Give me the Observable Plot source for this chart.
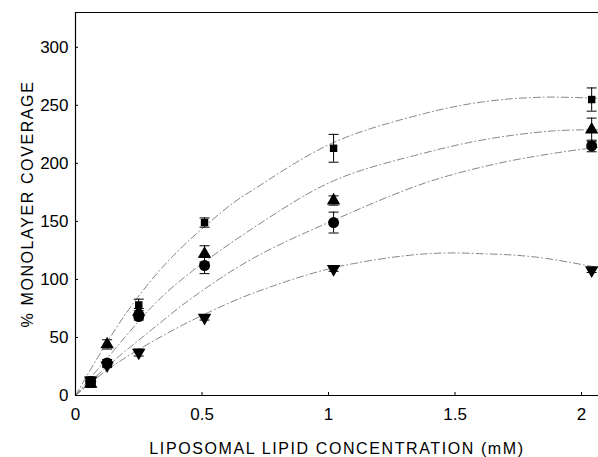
<!DOCTYPE html>
<html>
<head>
<meta charset="utf-8">
<script src="https://cdn.jsdelivr.net/npm/d3@7"></script>
<script src="https://cdn.jsdelivr.net/npm/@observablehq/plot@0.6"></script>
<style>
  html, body { margin: 0; padding: 0; background: #fff; }
  #chart svg { display: block; }
</style>
</head>
<body>
<div id="chart"></div>
<script>
// Concentrations (mM) as plotted
const conc = [0.06, 0.125, 0.25, 0.51, 1.02, 2.04];

// Series values (% monolayer coverage) and error half-widths
const squareVals = [13, null, 78, 149, 213, 255];
const squareErr  = [3, null, 5, 4, 12, 10];
const triVals    = [10, 44, 72, 122, 168, 229];
const triErr     = [3, 4, 3, 7, 4, 10];
const circVals   = [12, 28, 68, 112, 149, 215];
const circErr    = [3, 3, 3, 7, 9, 5];
const invVals    = [13, 26, 37, 67, 109, 108];
const invErr     = [2, 2, 3, 2, 2, 2];

// Fitted curves
const squareCurveX = [0, 0.125, 0.237, 0.38, 0.60, 0.70, 1.02, 1.38, 1.61, 1.84, 2.07];
const squareCurveY = [0, 46, 82, 119, 162, 177, 218, 243, 253, 257, 256];
const triCurveX    = [0, 0.125, 0.30, 0.42, 0.70, 1.02, 1.38, 1.63, 1.89, 2.07];
const triCurveY    = [0, 32, 76, 100, 144, 185, 209, 221, 228, 229];
const circCurveX   = [0, 0.125, 0.32, 0.46, 0.70, 1.02, 1.38, 1.67, 1.93, 2.07];
const circCurveY   = [0, 25, 60, 84, 118, 151, 183, 200, 210, 214];
const invCurveX    = [0, 0.125, 0.245, 0.40, 0.51, 0.70, 1.02, 1.38, 1.63, 1.83, 2.07];
const invCurveY    = [0, 22, 39, 58, 70, 88, 110, 122, 122, 119, 110];

const xTicks = [0, 0.5, 1, 1.5, 2];
const xTickLabels = ["0", "0.5", "1", "1.5", "2"];
const yTicks = [0, 50, 100, 150, 200, 250, 300];

const xTitle = "LIPOSOMAL LIPID CONCENTRATION (mM)";
const yTitle = "% MONOLAYER COVERAGE";

const series = [
  {name: "square", vals: squareVals, err: squareErr, symbol: "square", rotate: 0, r: 4.2, cx: squareCurveX, cy: squareCurveY},
  {name: "triangle", vals: triVals, err: triErr, symbol: "triangle", rotate: 0, r: 5, cx: triCurveX, cy: triCurveY},
  {name: "circle", vals: circVals, err: circErr, symbol: "circle", rotate: 0, r: 5.5, cx: circCurveX, cy: circCurveY},
  {name: "inverted", vals: invVals, err: invErr, symbol: "triangle", rotate: 180, r: 5, cx: invCurveX, cy: invCurveY}
];

const points = [];
const curves = [];
for (const s of series) {
  conc.forEach((c, i) => {
    if (s.vals[i] != null) points.push({series: s.name, x: c, y: s.vals[i], lo: s.vals[i] - s.err[i], hi: s.vals[i] + s.err[i]});
  });
  s.cx.forEach((c, i) => curves.push({series: s.name, x: c, y: s.cy[i]}));
}

const capSymbol = {
  draw(ctx) { ctx.moveTo(-5, 0); ctx.lineTo(5, 0); }
};

const chart = Plot.plot({
  width: 598,
  height: 457,
  marginLeft: 75,
  marginTop: 12,
  marginBottom: 62,
  marginRight: 0,
  style: {fontFamily: "'Liberation Sans', Arial, sans-serif", fontSize: "17px", color: "#000", background: "#fff"},
  x: {domain: [0, 2.067], label: null},
  y: {domain: [0, 330], label: null},
  marks: [
    Plot.line(curves, {x: "x", y: "y", z: "series", curve: "catmull-rom", stroke: "#777", strokeWidth: 0.9, strokeDasharray: "7,3,1,3"}),
    Plot.ruleX(points, {x: "x", y1: "lo", y2: "hi", stroke: "#000", strokeWidth: 1}),
    Plot.dot(points, {x: "x", y: "lo", symbol: capSymbol, stroke: "#000", strokeWidth: 1, r: 3}),
    Plot.dot(points, {x: "x", y: "hi", symbol: capSymbol, stroke: "#000", strokeWidth: 1, r: 3}),
    ...series.map(s => Plot.dot(points.filter(p => p.series === s.name), {x: "x", y: "y", symbol: s.symbol, rotate: s.rotate, r: s.r, fill: "#000", stroke: "none"})),
    Plot.axisX({ticks: xTicks, tickFormat: (d, i) => xTickLabels[i], tickSize: -3, tickPadding: 15, fontSize: 17, label: null}),
    Plot.axisY({ticks: yTicks, tickSize: -3, tickPadding: 10, fontSize: 17, label: null}),
    Plot.ruleY([0], {stroke: "#000", strokeWidth: 1.2}),
    Plot.ruleX([0], {stroke: "#000", strokeWidth: 1.2}),
    Plot.frame({anchor: "top", stroke: "#000", strokeWidth: 1}),
    Plot.text([xTitle], {frameAnchor: "bottom", dy: 58, fontSize: 16, fill: "#000"}),
    Plot.text([yTitle], {frameAnchor: "left", textAnchor: "middle", dx: -48, rotate: -90, fontSize: 16, fill: "#000"})
  ]
});
chart.querySelectorAll("text").forEach(t => {
  if (t.textContent === xTitle) t.style.letterSpacing = "1.6px";
  if (t.textContent === yTitle) t.style.letterSpacing = "1.6px";
});
document.getElementById("chart").appendChild(chart);
</script>
</body>
</html>
